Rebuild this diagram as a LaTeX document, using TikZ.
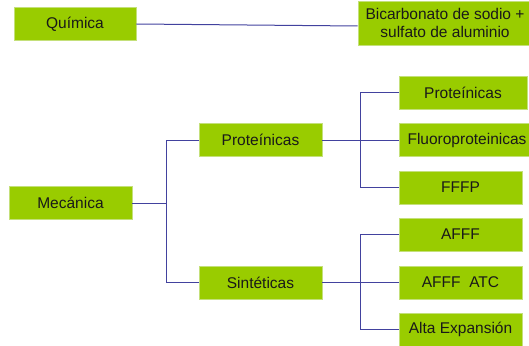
\documentclass[tikz,border=0pt]{standalone}
\usepackage{fontspec}
\setmainfont{Liberation Sans}
\definecolor{boxgreen}{HTML}{99CC00}
\definecolor{boxedge}{HTML}{C4E07A}
\definecolor{linkblue}{HTML}{42429E}
\tikzset{
  >=latex,
}
\tikzstyle{box}=[draw=boxedge,fill=boxgreen,text=black!90,line width=0.6pt,
  minimum width=123pt,minimum height=33pt,inner sep=0pt,align=center,
  font=\fontsize{15.5}{18.5}\selectfont]
\tikzstyle{link}=[draw=linkblue,line width=1pt]

\begin{document}
\begin{tikzpicture}[x=1pt,y=-1pt]
    \useasboundingbox (0,0) rectangle (529,345);
    \clip (0,0) rectangle (529,345);
    \node[box,minimum width=122pt] (quimica) at (75,24) {Química};
    \node[box,minimum width=174pt,minimum height=44pt] (bicarb) at (445,23)
      {Bicarbonato de sodio +\\sulfato de aluminio};
    \node[box] (mecanica) at (70.5,203) {Mecánica};
    \node[box] (prot) at (260.5,140) {Proteínicas};
    \node[box] (sint) at (260.5,282.5) {Sintéticas};
    \node[box,minimum width=128pt] (prot1) at (463,92.5) {Proteínicas};
    \node[box,minimum width=136pt] (fluoro) at (467,140) {Fluoroproteinicas};
    \node[box] (fffp) at (460.5,187.5) {FFFP};
    \node[box] (afff) at (460.5,234.5) {AFFF};
    \node[box] (afffatc) at (460.5,282.5) {AFFF\ \ ATC};
    \node[box] (alta) at (460.5,329.5) {Alta Expansión};
    \draw[link] (quimica.east) -- ([yshift=-3pt]bicarb.west);
    \draw[link] (mecanica.east) -- ++(34,0) coordinate (m1) |- (prot.west);
    \draw[link] (m1) |- (sint.west);
    \draw[link] (prot.east) -- ++(38,0) coordinate (p1) |- (prot1.west);
    \draw[link] (p1) -- (fluoro.west);
    \draw[link] (p1) |- (fffp.west);
    \draw[link] (sint.east) -- ++(38,0) coordinate (s1) |- (afff.west);
    \draw[link] (s1) -- (afffatc.west);
    \draw[link] (s1) |- (alta.west);
\end{tikzpicture}
\end{document}
